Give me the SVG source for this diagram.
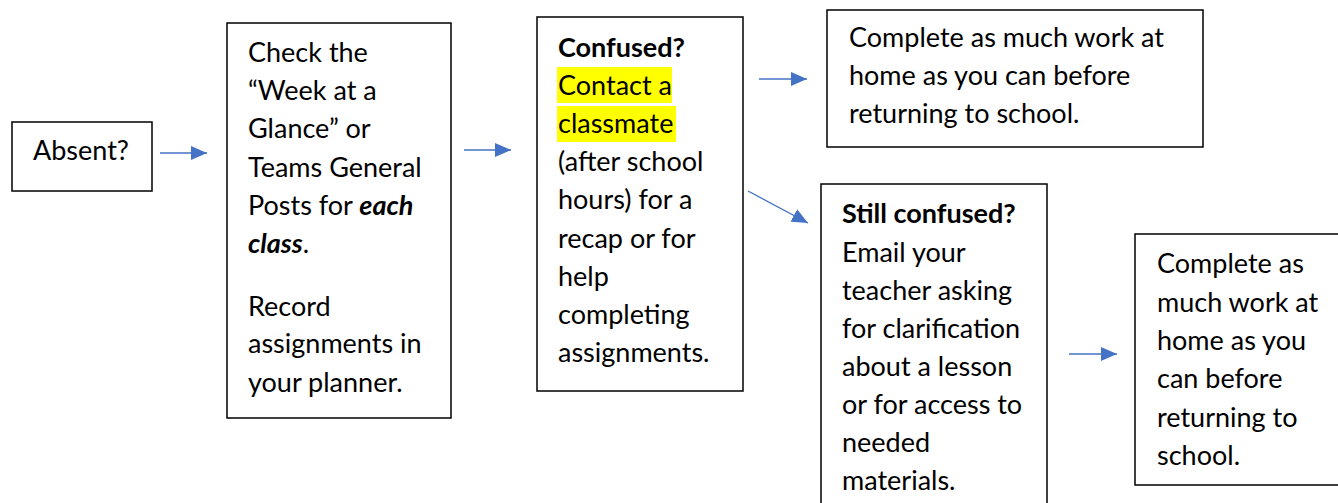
<svg xmlns="http://www.w3.org/2000/svg" width="1338" height="503" viewBox="0 0 1338 503">
<style>
.box{fill:#fff;stroke:#000;stroke-width:1.5}
.t{font-family:Lato,"Liberation Sans",sans-serif;font-size:27px;fill:#000}
.b{font-weight:bold}
.bi{font-weight:bold;font-style:italic}
.c{stroke:#4472C4;stroke-width:1.3;fill:none}
.hl{fill:#FFFF00}
</style>
<defs>
<marker id="ah" markerUnits="userSpaceOnUse" markerWidth="16" markerHeight="14" refX="16" refY="7" orient="auto">
<path d="M0,0 L16,7 L0,14 z" fill="#4472C4"/>
</marker>
</defs>
<g id="n1">
<rect class="box" x="12" y="122" width="140" height="69"/>
<text class="t" x="33" y="160">Absent?</text>
</g>
<g id="n2">
<rect class="box" x="227" y="23" width="224" height="395"/>
<text class="t" x="248" y="62">Check the</text>
<text class="t" x="248" y="100">“Week at a</text>
<text class="t" x="248" y="138">Glance” or</text>
<text class="t" x="248" y="177">Teams General</text>
<text class="t" x="248" y="215">Posts for <tspan class="bi">each</tspan></text>
<text class="t" x="248" y="253"><tspan class="bi">class</tspan>.</text>
<text class="t" x="248" y="316">Record</text>
<text class="t" x="248" y="353">assignments in</text>
<text class="t" x="248" y="392">your planner.</text>
</g>
<g id="n3">
<rect class="box" x="537" y="17" width="206" height="374"/>
<rect class="hl" x="557" y="67" width="115" height="36"/>
<rect class="hl" x="557" y="106" width="119" height="36"/>
<text class="t b" x="558" y="56.5">Confused?</text>
<text class="t" x="558" y="94.7">Contact a</text>
<text class="t" x="558" y="132.9">classmate</text>
<text class="t" x="558" y="171.1">(after school</text>
<text class="t" x="558" y="209.3">hours) for a</text>
<text class="t" x="558" y="247.5">recap or for</text>
<text class="t" x="558" y="285.7">help</text>
<text class="t" x="558" y="323.9">completing</text>
<text class="t" x="558" y="362.1">assignments.</text>
</g>
<g id="n4">
<rect class="box" x="827" y="10" width="376" height="137"/>
<text class="t" x="849" y="47">Complete as much work at</text>
<text class="t" x="849" y="85">home as you can before</text>
<text class="t" x="849" y="123">returning to school.</text>
</g>
<g id="n5">
<rect class="box" x="821" y="184" width="226" height="330"/>
<text class="t b" x="842" y="223">Still confused?</text>
<text class="t" x="842" y="262">Email your</text>
<text class="t" x="842" y="300">teacher asking</text>
<text class="t" x="842" y="338">for clarification</text>
<text class="t" x="842" y="376">about a lesson</text>
<text class="t" x="842" y="414">or for access to</text>
<text class="t" x="842" y="452">needed</text>
<text class="t" x="842" y="490">materials.</text>
</g>
<g id="n6">
<rect class="box" x="1135" y="234" width="210" height="251"/>
<text class="t" x="1157" y="273">Complete as</text>
<text class="t" x="1157" y="312">much work at</text>
<text class="t" x="1157" y="350">home as you</text>
<text class="t" x="1157" y="388">can before</text>
<text class="t" x="1157" y="427">returning to</text>
<text class="t" x="1157" y="465">school.</text>
</g>
<g id="connectors">
<line class="c" x1="160" y1="153" x2="207" y2="153" marker-end="url(#ah)"/>
<line class="c" x1="464" y1="150" x2="511" y2="150" marker-end="url(#ah)"/>
<line class="c" x1="759" y1="79" x2="807" y2="79" marker-end="url(#ah)"/>
<line class="c" x1="748" y1="191" x2="808" y2="223" marker-end="url(#ah)"/>
<line class="c" x1="1069" y1="354" x2="1117" y2="354" marker-end="url(#ah)"/>
</g>
</svg>
